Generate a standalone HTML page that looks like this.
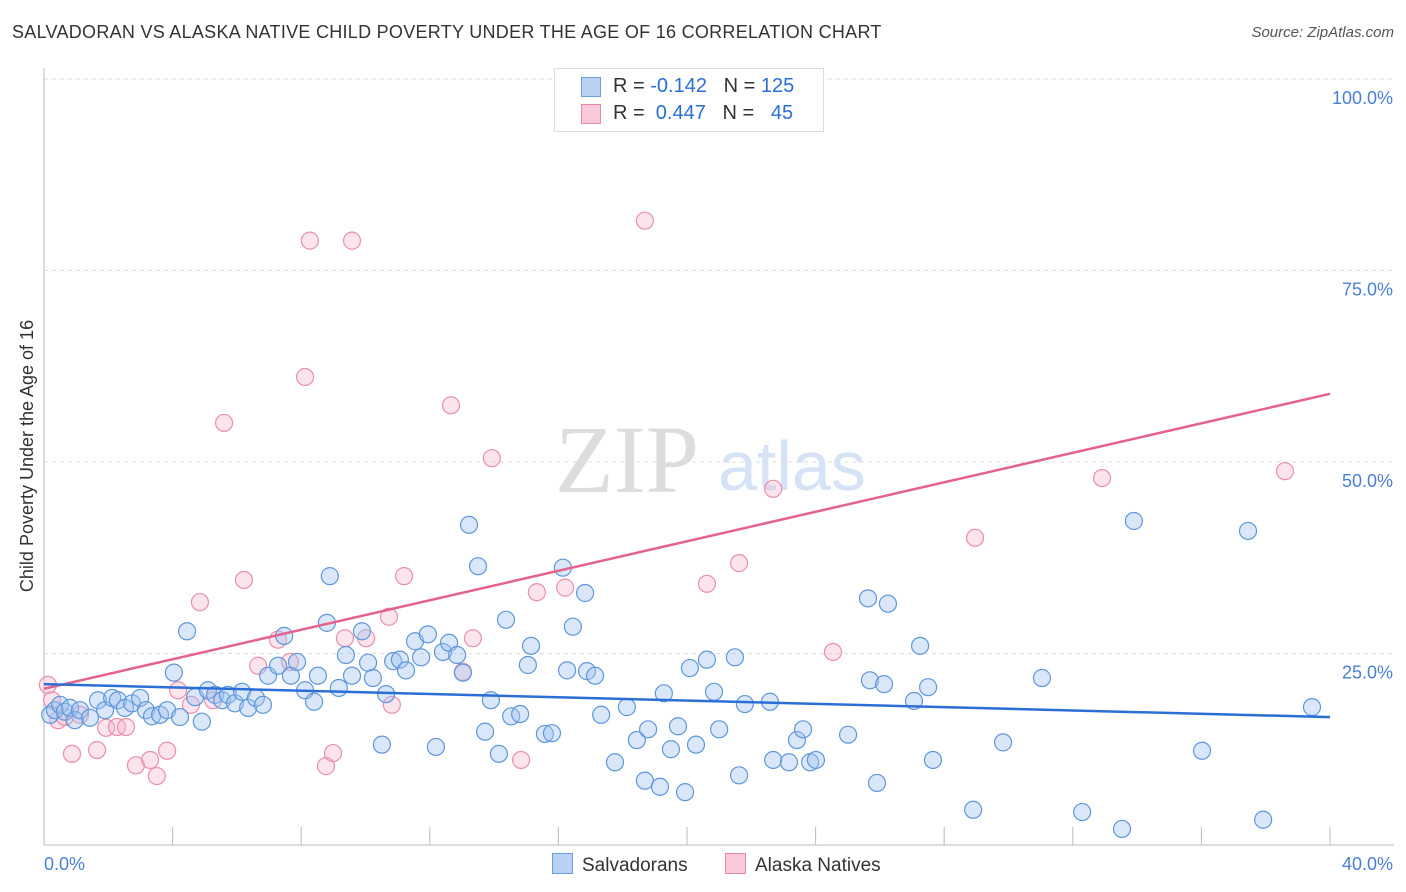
<!DOCTYPE html>
<html><head><meta charset="utf-8">
<style>
body{margin:0;background:#fff;font-family:"Liberation Sans",sans-serif;}
#wrap{position:relative;width:1406px;height:892px;overflow:hidden;}
.t{position:absolute;white-space:nowrap;}
</style></head>
<body>
<div id="wrap">
<div class="t" style="left:12px;top:22px;font-size:18px;color:#333;letter-spacing:0.28px">SALVADORAN VS ALASKA NATIVE CHILD POVERTY UNDER THE AGE OF 16 CORRELATION CHART</div>
<div class="t" style="right:12px;top:24px;font-size:15px;color:#555;font-style:italic">Source: ZipAtlas.com</div>
<svg id="svg" width="1406" height="892" style="position:absolute;left:0;top:0"></svg>
</div>
<script>
const xTicks=[0,4,8,12,16,20,24,28,32,36,40];
const yTicks=[25,50,75,100];
const yTickLabels=["25.0%","50.0%","75.0%","100.0%"];
const blueX=[0.19,0.34,0.5,0.65,0.81,0.96,1.12,1.43,1.68,1.9,2.12,2.3,2.52,2.74,2.99,3.17,3.36,3.61,3.83,4.04,4.23,4.45,4.7,4.91,5.1,5.32,5.54,5.72,5.94,6.16,6.35,6.59,6.81,6.97,7.28,7.47,7.68,7.87,8.12,8.4,8.52,8.8,8.89,9.17,9.39,9.58,9.89,10.08,10.23,10.51,10.64,10.86,11.07,11.26,11.54,11.73,11.94,12.19,12.41,12.6,12.85,13.03,13.22,13.5,13.72,13.9,14.15,14.37,14.53,14.81,15.05,15.15,15.58,15.8,16.14,16.27,16.45,16.83,16.89,17.14,17.33,17.76,18.13,18.44,18.69,18.79,19.16,19.28,19.5,19.72,19.94,20.09,20.28,20.62,20.84,21.0,21.49,21.62,21.8,22.58,22.68,23.17,23.42,23.61,23.83,24.01,25.01,25.63,25.69,25.91,26.13,26.25,27.06,27.25,27.5,27.65,28.9,29.83,31.04,32.29,33.53,33.9,36.02,37.45,37.92,39.44];
const blueY=[17.0,17.6,18.3,17.4,17.9,16.3,17.6,16.6,18.9,17.6,19.2,18.9,17.9,18.5,19.2,17.6,16.8,17.0,17.6,22.5,16.7,27.9,19.3,16.1,20.2,19.6,18.9,19.6,18.5,20.0,17.9,19.2,18.3,22.1,23.4,27.3,22.1,23.9,20.2,18.7,22.1,29.0,35.1,20.5,24.8,22.1,27.9,23.8,21.8,13.1,19.7,24.0,24.2,22.8,26.6,24.5,27.5,12.8,25.2,26.4,24.8,22.5,41.8,36.4,14.8,18.9,11.9,29.4,16.8,17.1,23.5,26.0,14.5,14.6,36.2,22.8,28.5,32.9,22.7,22.1,17.0,10.8,18.0,13.7,8.4,15.1,7.6,19.8,12.5,15.5,6.9,23.1,13.1,24.2,20.0,15.1,24.5,9.1,18.4,18.7,11.1,10.8,13.7,15.1,10.8,11.1,14.4,32.2,21.5,8.1,21.0,31.5,18.8,26.0,20.6,11.1,4.6,13.4,21.8,4.3,2.1,42.3,12.3,41.0,3.3,18.0];
const pinkX=[0.12,0.25,0.44,0.65,0.87,1.12,1.65,1.93,2.27,2.55,2.86,3.3,3.51,3.83,4.17,4.57,4.85,5.26,5.6,6.22,6.66,7.28,7.65,8.27,8.12,8.77,8.99,9.36,9.58,10.02,10.73,10.82,11.2,12.66,13.03,13.34,13.93,14.84,15.33,16.21,18.69,20.62,21.62,22.68,24.54,28.96,32.91,38.6];
const pinkY=[20.9,18.9,16.3,16.7,11.9,17.0,12.4,15.3,15.4,15.4,10.4,11.1,9.0,12.3,20.2,18.3,31.7,18.9,55.1,34.6,23.4,26.8,23.9,78.9,61.1,10.3,12.0,27.0,78.9,27.0,29.8,18.3,35.1,57.4,22.6,27.0,50.5,11.1,33.0,33.6,81.5,34.1,36.8,46.5,25.2,40.1,47.9,48.8];
const blueTrend=[21.0,16.7];
const pinkTrend=[20.4,58.9];

const X0=44,X1=1330,Y0=845,Y100=79;
const sx=v=>X0+(v/40)*(X1-X0);
const sy=v=>Y0-(v/100)*(Y0-Y100);
const svg=document.getElementById('svg');
const NS='http://www.w3.org/2000/svg';
function mk(tag,attrs){const e=document.createElementNS(NS,tag);for(const k in attrs)e.setAttribute(k,attrs[k]);svg.appendChild(e);return e;}

[100,75,50,25].forEach(v=>{
  const g=mk('line',{x1:X0,x2:1394,y1:sy(v),y2:sy(v),stroke:'#ddd','stroke-dasharray':'4,4','stroke-width':1});
  
  
});
let ax=mk('line',{x1:X0,x2:X0,y1:68,y2:Y0,stroke:'#bbb','stroke-width':1});


ax=mk('line',{x1:X0,x2:1394,y1:Y0,y2:Y0,stroke:'#bbb','stroke-width':1});


xTicks.forEach(v=>{
  const t=mk('line',{x1:sx(v),x2:sx(v),y1:827,y2:Y0,stroke:'#bbb','stroke-width':1});
  
  
});
yTicks.forEach((v,i)=>{
  const t=mk('text',{x:1393,y:sy(v)+25,'text-anchor':'end','font-size':18,fill:'#4a7fd6','font-family':'Liberation Sans, sans-serif'});
  t.textContent=yTickLabels[i];
  
  
});
let xl=mk('text',{x:44,y:870,'font-size':18,fill:'#4a7fd6','font-family':'Liberation Sans, sans-serif'});xl.textContent='0.0%';


xl=mk('text',{x:1393,y:870,'text-anchor':'end','font-size':18,fill:'#4a7fd6','font-family':'Liberation Sans, sans-serif'});xl.textContent='40.0%';


let wm=mk('text',{x:555,y:492,'font-size':96,fill:'#ddd','font-family':'Liberation Serif, serif'});wm.textContent='ZIP';


wm=mk('text',{x:718,y:490,'font-size':70,fill:'#d6e2f5','font-family':'Liberation Sans, sans-serif'});wm.textContent='atlas';


let yt=mk('text',{x:0,y:0,transform:'translate(33,456) rotate(-90)','text-anchor':'middle','font-size':18,fill:'#333','font-family':'Liberation Sans, sans-serif'});
yt.textContent='Child Poverty Under the Age of 16';


pinkX.forEach((x,i)=>{
  const c=mk('circle',{cx:sx(x),cy:sy(pinkY[i]),r:8.5,fill:'rgba(244,178,200,0.35)',stroke:'#e88fae','stroke-width':1.2});
  
  
});
blueX.forEach((x,i)=>{
  const c=mk('circle',{cx:sx(x),cy:sy(blueY[i]),r:8.5,fill:'rgba(160,196,240,0.4)',stroke:'#5f97dc','stroke-width':1.2});
  
  
});
let tl=mk('line',{x1:sx(0),x2:sx(40),y1:sy(pinkTrend[0]),y2:sy(pinkTrend[1]),stroke:'#e4628e','stroke-width':2.5});


tl=mk('line',{x1:sx(0),x2:sx(40),y1:sy(blueTrend[0]),y2:sy(blueTrend[1]),stroke:'#2b6fd6','stroke-width':2.5});


</script>
<div class="t" style="left:554px;top:68px;width:268px;height:62px;border:1px solid #ddd;background:#fff;font-size:20px;color:#333">
  <div style="position:absolute;left:26px;top:8px;width:18px;height:18px;background:#b9d2f3;border:1px solid #6a9fdb"></div>
  <div style="position:absolute;left:58px;top:6px">R = <span style="color:#2b6fd6">-0.142</span>&nbsp;&nbsp;&nbsp;N = <span style="color:#2b6fd6">125</span></div>
  <div style="position:absolute;left:26px;top:35px;width:18px;height:18px;background:#f9c9d8;border:1px solid #e58aa8"></div>
  <div style="position:absolute;left:58px;top:33px">R = &nbsp;<span style="color:#2b6fd6">0.447</span>&nbsp;&nbsp;&nbsp;N = &nbsp;&nbsp;<span style="color:#2b6fd6">45</span></div>
</div>
<div class="t" style="left:552px;top:853px;font-size:19px;color:#333">
  <span style="display:inline-block;width:19px;height:19px;background:#b9d2f3;border:1px solid #6a9fdb;vertical-align:-3px;margin-right:9px"></span>Salvadorans</div>
<div class="t" style="left:725px;top:853px;font-size:19px;color:#333">
  <span style="display:inline-block;width:19px;height:19px;background:#f9c9d8;border:1px solid #e58aa8;vertical-align:-3px;margin-right:9px"></span>Alaska Natives</div>
</body></html>
